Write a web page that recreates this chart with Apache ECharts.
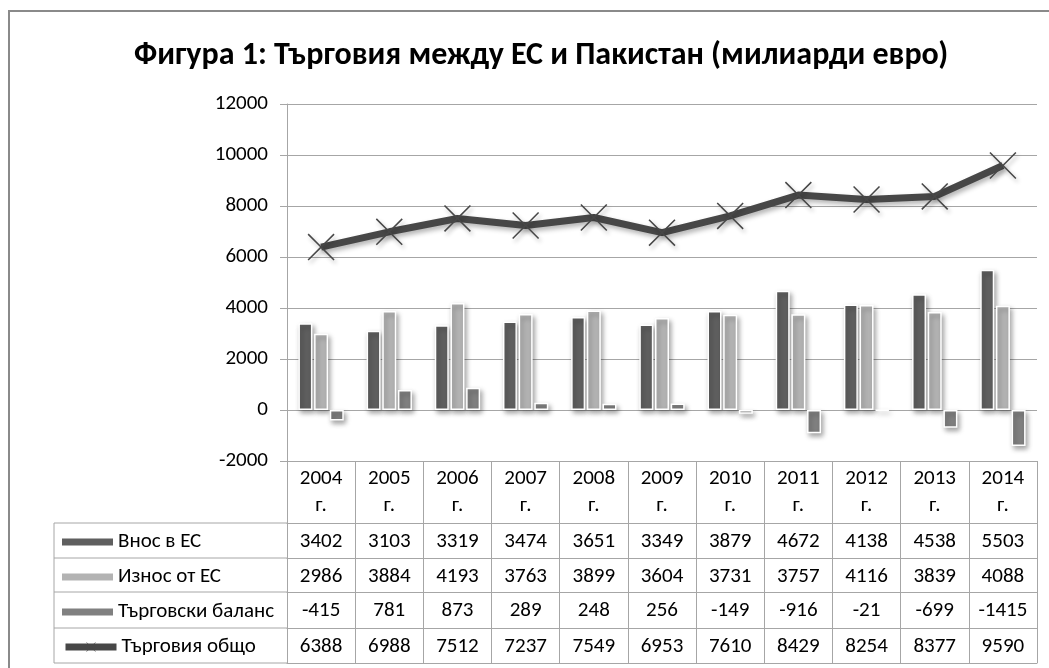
<!DOCTYPE html>
<html>
<head>
<meta charset="utf-8">
<script src="https://cdn.jsdelivr.net/npm/echarts@6/dist/echarts.min.js"></script>
<style>
html,body{margin:0;padding:0;background:#fff;}
#c{width:1049px;height:668px;}
</style>
</head>
<body>
<div id="c"></div>
<script>
const categories = ['2004 г.','2005 г.','2006 г.','2007 г.','2008 г.','2009 г.','2010 г.','2011 г.','2012 г.','2013 г.','2014 г.'];
const importsEU = [3402,3103,3319,3474,3651,3349,3879,4672,4138,4538,5503];
const exportsEU = [2986,3884,4193,3763,3899,3604,3731,3757,4116,3839,4088];
const tradeBalance = [-415,781,873,289,248,256,-149,-916,-21,-699,-1415];
const tradeTotal = [6388,6988,7512,7237,7549,6953,7610,8429,8254,8377,9590];
const seriesNames = ['Внос в ЕС','Износ от ЕС','Търговски баланс','Търговия общо'];
const yTicks = [-2000,0,2000,4000,6000,8000,10000,12000];

const FONT = "Carlito, 'Noto Sans', sans-serif";
const FS = 21;
const GRID = '#a6a6a6';
const rows = [importsEU, exportsEU, tradeBalance, tradeTotal];
const rowOffsets = [62, 97, 131, 167];

const xMark = 'path://M0,4 L4,0 L50,46 L96,0 L100,4 L54,50 L100,96 L96,100 L50,54 L4,100 L0,96 L46,50 Z';

const chart = echarts.init(document.getElementById('c'));

const xAxes = [{
  type: 'category', data: categories, gridIndex: 0, position: 'bottom',
  axisLine: {show: true, onZero: false, lineStyle: {color: GRID, width: 1}},
  axisTick: {show: true, length: 202, interval: 0, lineStyle: {color: GRID, width: 1}},
  axisLabel: {interval: 0, margin: 4, fontSize: FS, lineHeight: 27, color: '#000', fontFamily: FONT,
    formatter: v => v.replace(' ', '\n')}
}];
rows.forEach((r, i) => {
  xAxes.push({
    type: 'category', data: categories, gridIndex: 0, position: 'bottom', offset: rowOffsets[i],
    axisLine: {show: true, onZero: false, lineStyle: {color: GRID, width: 1}},
    axisTick: {show: false},
    axisLabel: {interval: 0, margin: 8, fontSize: FS, color: '#000', fontFamily: FONT,
      formatter: (v, idx) => String(r[idx])}
  });
});
xAxes.push({
  type: 'category', data: categories, gridIndex: 0, position: 'bottom', offset: 202,
  axisLine: {show: true, onZero: false, lineStyle: {color: GRID, width: 1}},
  axisTick: {show: false}, axisLabel: {show: false}
});

const barShadow = {borderColor: '#fff', borderWidth: 1.5, shadowBlur: 5, shadowOffsetX: 2, shadowOffsetY: 3, shadowColor: 'rgba(0,0,0,0.35)'};
const colors = ['#5f5f5f', '#b3b3b3', '#808080', '#474747'];

const legendCenters = [540, 575, 610, 645];
const legends = seriesNames.map((n, i) => ({
  data: i === 3 ? [n] : [{name: n, icon: 'rect'}], left: 57, top: legendCenters[i] - 15, orient: 'vertical',
  itemWidth: 51, itemHeight: i === 3 ? 12 : 7, itemGap: 5,
  lineStyle: {width: 7},
  itemStyle: i === 3 ? {} : {borderWidth: 0, shadowBlur: 0, shadowOffsetX: 0, shadowOffsetY: 0},
  textStyle: {fontSize: FS, lineHeight: 24, color: '#000', fontFamily: FONT, padding: [0, 0, 0, 0]},
  selectedMode: false
}));

const L = 54, R = 287;
const hl = [523, 558, 592, 628, 663];
const graphics = [
  {type: 'rect', shape: {x: 9, y: 11, width: 1060, height: 680}, style: {fill: 'none', stroke: '#8a8a8a', lineWidth: 2}, silent: true},
  {type: 'line', shape: {x1: L, y1: hl[0], x2: L, y2: hl[4]}, style: {stroke: GRID, lineWidth: 1}, silent: true}
];
hl.forEach(y => graphics.push({type: 'line', shape: {x1: L, y1: y, x2: R, y2: y}, style: {stroke: GRID, lineWidth: 1}, silent: true}));

chart.setOption({
  animation: false,
  backgroundColor: '#fff',
  color: colors,
  title: {
    text: 'Фигура 1: Търговия между ЕС и Пакистан (милиарди евро)',
    left: 129, top: 35,
    textStyle: {fontSize: 32, fontWeight: 'bold', color: '#000', fontFamily: FONT}
  },
  legend: legends,
  grid: {left: 287, right: 12, top: 104, bottom: 207, containLabel: false},
  xAxis: xAxes,
  yAxis: {
    type: 'value', min: yTicks[0], max: yTicks[yTicks.length - 1], interval: 2000,
    axisLine: {show: true, lineStyle: {color: GRID}},
    axisTick: {show: true, length: 7, lineStyle: {color: GRID}},
    splitLine: {show: true, lineStyle: {color: GRID, width: 1}},
    axisLabel: {fontSize: FS, color: '#000', margin: 19, fontFamily: FONT, formatter: v => String(v)}
  },
  series: [
    {name: seriesNames[0], type: 'bar', data: importsEU, barWidth: 14, barGap: '12%', itemStyle: Object.assign({color: colors[0]}, barShadow)},
    {name: seriesNames[1], type: 'bar', data: exportsEU, barWidth: 14, barGap: '12%', itemStyle: Object.assign({color: colors[1]}, barShadow)},
    {name: seriesNames[2], type: 'bar', data: tradeBalance, barWidth: 14, barGap: '12%', itemStyle: Object.assign({color: colors[2]}, barShadow)},
    {name: seriesNames[3], type: 'line', data: tradeTotal, z: 5,
      lineStyle: {color: colors[3], width: 7, shadowBlur: 5, shadowOffsetX: 2, shadowOffsetY: 3, shadowColor: 'rgba(0,0,0,0.3)'},
      symbol: xMark, symbolSize: 27, showAllSymbol: true,
      itemStyle: {color: colors[3], shadowBlur: 4, shadowOffsetX: 2, shadowOffsetY: 3, shadowColor: 'rgba(0,0,0,0.3)'}}
  ],
  graphic: graphics
});
</script>
</body>
</html>
